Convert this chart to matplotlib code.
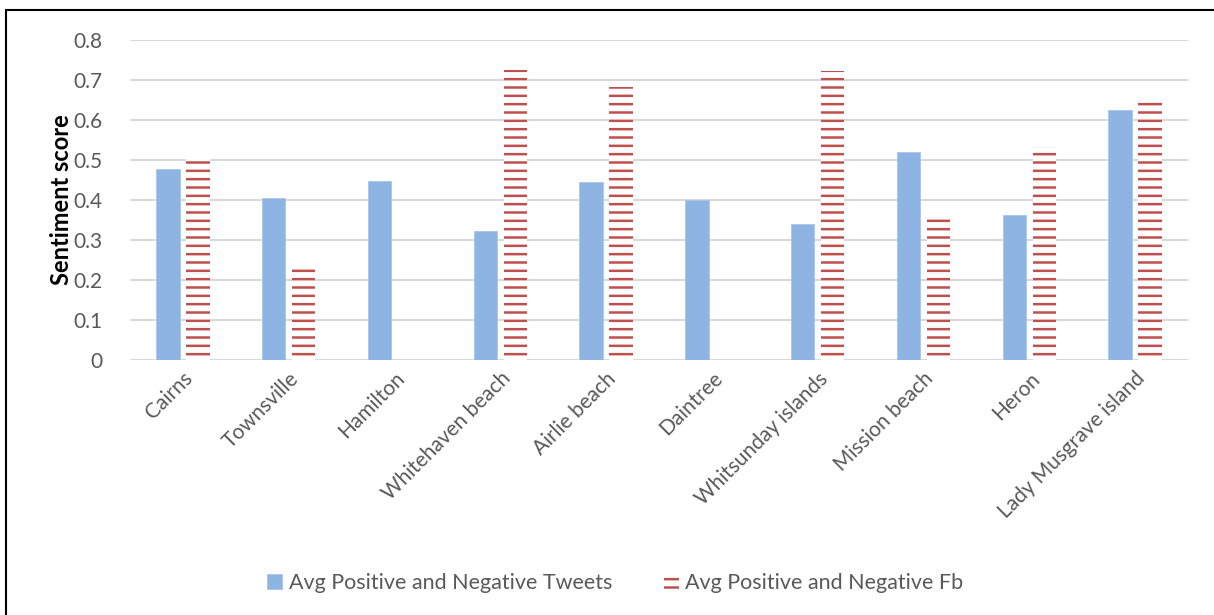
import numpy as np
import matplotlib.pyplot as plt
from matplotlib.patches import Rectangle

plt.rcParams['font.family'] = ['Lato', 'DejaVu Sans']
plt.rcParams['hatch.linewidth'] = 1.8

# Sentiment scores per location
places = ['Cairns', 'Townsville', 'Hamilton', 'Whitehaven beach', 'Airlie beach',
          'Daintree', 'Whitsunday islands', 'Mission beach', 'Heron',
          'Lady Musgrave island']
tweets = [0.477, 0.405, 0.447, 0.323, 0.445, 0.400, 0.340, 0.520, 0.362, 0.625]
fb = [0.507, 0.235, 0.0, 0.725, 0.683, 0.0, 0.723, 0.362, 0.533, 0.655]

fig = plt.figure(figsize=(12.14, 6.15), dpi=100)
ax = fig.add_axes([130 / 1214, 1 - 360 / 615, 1058 / 1214, 320 / 615])

x = np.arange(len(places))
w = 0.22
ax.bar(x - 0.142, tweets, w, color='#8EB4E3', edgecolor='#A6C4EA', linewidth=0.6,
       label='Avg Positive and Negative Tweets', zorder=3)
ax.bar(x + 0.142, fb, w, color='white', edgecolor='#C0504D', linewidth=0,
       hatch='--', label='Avg Positive and Negative Fb', zorder=3)

ax.set_xlim(-0.5, len(places) - 0.5)
ax.set_ylim(0, 0.8)
ax.set_yticks(np.arange(0, 0.81, 0.1))
ax.set_yticklabels(['0'] + ['%.1f' % v for v in np.arange(0.1, 0.81, 0.1)])
ax.set_xticks(x)
ax.set_xticklabels(places, rotation=45, ha='right', rotation_mode='anchor')
ax.tick_params(axis='both', length=0, labelsize=15, colors='#595959')
ax.tick_params(axis='y', pad=20)
ax.tick_params(axis='x', pad=6)
ax.yaxis.grid(True, color='#D9D9D9', linewidth=1.5, zorder=0)
for s in ax.spines.values():
    s.set_visible(False)

ax.set_ylabel('Sentiment score', fontsize=17, fontweight='bold', color='black', labelpad=0)

leg = fig.legend(loc='center', bbox_to_anchor=(0.507, 1 - 583 / 615), ncol=2,
                 frameon=False, fontsize=15.5, handlelength=0.7, handleheight=0.7,
                 columnspacing=2.4, handletextpad=0.3)
for t in leg.get_texts():
    t.set_color('#595959')

# outer frame
fig.patches.append(Rectangle((6 / 1214, -0.1), 1.2, 1 - 10 / 615 + 0.1,
                             transform=fig.transFigure, fill=False,
                             edgecolor='black', linewidth=1.5))

fig.savefig('out.png', dpi=100)
